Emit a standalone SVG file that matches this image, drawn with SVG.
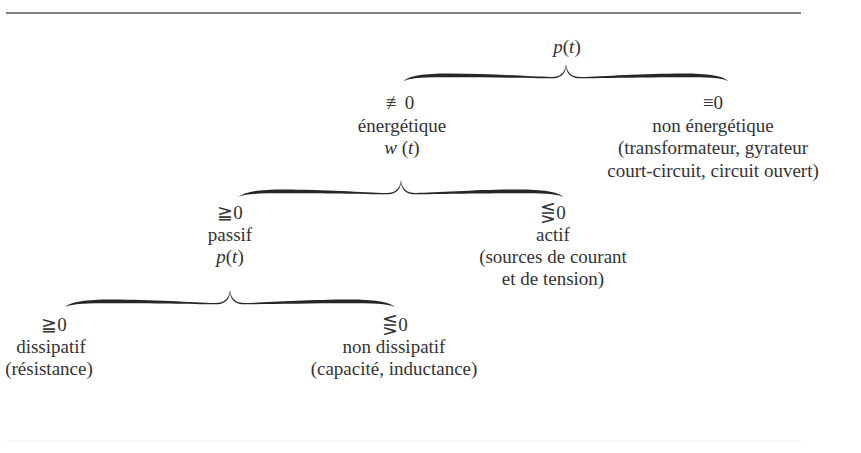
<svg xmlns="http://www.w3.org/2000/svg" width="861" height="453" viewBox="0 0 861 453">
<style>
.t{font-size:19px;fill:#333;text-anchor:middle}
.it{font-style:italic}
.brace{fill:#262626}
.rule{stroke:#555;stroke-width:1.3}
</style>
<defs>
<path id="br" d="M-162.5,17 C-156,11.5 -142,9.5 -117,9.5 C-77,9.5 -37,12.5 -15,13 C-6,13.3 -1,9 0,0 C1,9 6,13.3 15,13 C37,12.5 77,9.5 117,9.5 C142,9.5 156,11.5 162.5,17 C155,13.5 140,13.3 117,13.3 C77,13.3 37,14.3 15,14.3 C6,14.4 1,11 0,2.5 C-1,11 -6,14.4 -15,14.3 C-37,14.3 -77,13.3 -117,13.3 C-140,13.3 -155,13.5 -162.5,17 Z"/>
</defs>
<line class="rule" x1="6" y1="13" x2="801" y2="13"/>
<line x1="6" y1="441" x2="801" y2="441" stroke="#eee" stroke-width="1"/>
<g id="connectors">
<use href="#br" class="brace" transform="translate(566,64)"/>
<use href="#br" class="brace" transform="translate(401,180)"/>
<use href="#br" class="brace" transform="translate(230,290) scale(1.015,1)"/>
</g>
<g font-family="'Liberation Serif', 'Times New Roman', 'DejaVu Serif', serif" class="t">
<g id="root"><text class="t" x="567" y="53"><tspan class="it">p</tspan>(<tspan class="it">t</tspan>)</text></g>
<g id="energetique">
<text class="t" x="400" y="109">≢0</text>
<text class="t" x="402" y="132">énergétique</text>
<text class="t" x="402" y="154"><tspan class="it">w</tspan> (<tspan class="it">t</tspan>)</text>
</g>
<g id="non-energetique">
<text class="t" x="713" y="109">≡0</text>
<text class="t" x="713" y="132">non énergétique</text>
<text class="t" x="713" y="154">(transformateur, gyrateur</text>
<text class="t" x="713" y="177">court-circuit, circuit ouvert)</text>
</g>
<g id="passif">
<text class="t" x="230" y="219">≧0</text>
<text class="t" x="230" y="241">passif</text>
<text class="t" x="230" y="263"><tspan class="it">p</tspan>(<tspan class="it">t</tspan>)</text>
</g>
<g id="actif">
<text class="t" x="553" y="219">⋚0</text>
<text class="t" x="553" y="241">actif</text>
<text class="t" x="553" y="263">(sources de courant</text>
<text class="t" x="553" y="285">et de tension)</text>
</g>
<g id="dissipatif">
<text class="t" x="54" y="331">≧0</text>
<text class="t" x="51" y="353">dissipatif</text>
<text class="t" x="49" y="375">(résistance)</text>
</g>
<g id="non-dissipatif">
<text class="t" x="395" y="331">⋚0</text>
<text class="t" x="394" y="353">non dissipatif</text>
<text class="t" x="394" y="375">(capacité, inductance)</text>
</g>
</g>
</svg>
